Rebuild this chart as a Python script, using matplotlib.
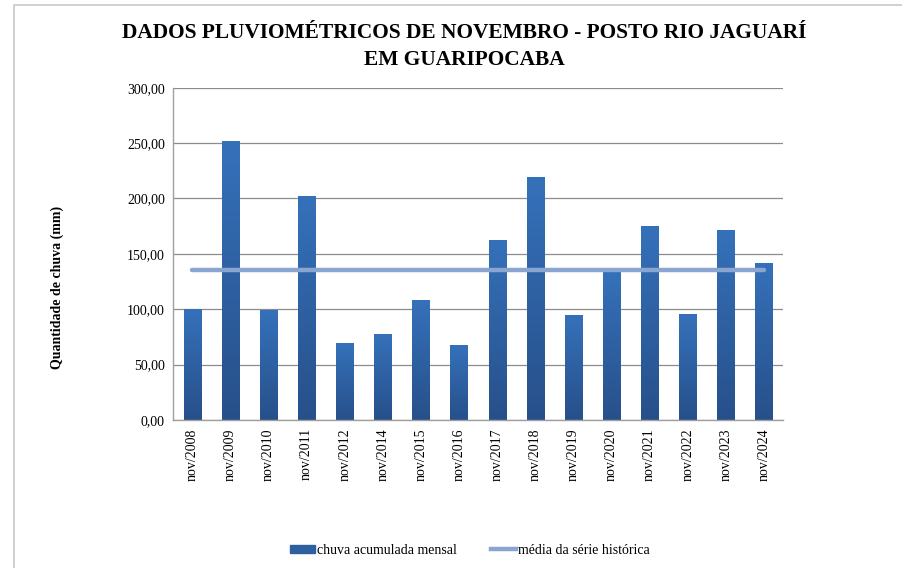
import matplotlib.pyplot as plt
import numpy as np
from matplotlib.patches import Rectangle
from matplotlib.lines import Line2D
from matplotlib.colors import LinearSegmentedColormap

plt.rcParams['font.family'] = ['Liberation Serif', 'DejaVu Serif']

# data
meses = ["nov/2008", "nov/2009", "nov/2010", "nov/2011", "nov/2012", "nov/2014",
         "nov/2015", "nov/2016", "nov/2017", "nov/2018", "nov/2019", "nov/2020",
         "nov/2021", "nov/2022", "nov/2023", "nov/2024"]
chuva = [100.6, 251.6, 99.1, 201.8, 69.4, 77.2, 108.1, 67.3, 162.8, 219.8,
         94.6, 133.6, 174.8, 95.5, 171.2, 141.4]
media = [135.5] * len(meses)
yticks = [0, 50, 100, 150, 200, 250, 300]

BAR_COLOR = "#2e5f9f"
LINE_COLOR = "#8aa5cf"

fig = plt.figure(figsize=(9.02, 5.68), dpi=100)
# light frame around the chart area
fig.patches.append(Rectangle((14 / 902, -0.1), 1.2, 1 - 5 / 568 + 0.1,
                             transform=fig.transFigure, fill=False,
                             edgecolor="#c8c8c8", linewidth=1.2))

ax = fig.add_axes([0.192, 0.2606, 0.676, 0.585])
x = np.arange(len(meses))
bars = ax.bar(x, chuva, width=0.45, color=BAR_COLOR, zorder=2)

# vertical gradient on each bar (lighter at top)
cmap = LinearSegmentedColormap.from_list("grad", ["#27508a", "#3571ba"])
grad = np.linspace(0, 1, 256).reshape(-1, 1)
for b in bars:
    x0, y0 = b.get_x(), b.get_y()
    w, h = b.get_width(), b.get_height()
    im = ax.imshow(grad, extent=[x0, x0 + w, y0, y0 + h], origin="lower",
                   cmap=cmap, aspect="auto", zorder=2.1)
    im.set_clip_path(b)

ax.plot(x, media, color=LINE_COLOR, linewidth=3.2, solid_capstyle="round", zorder=3)

ax.set_xlim(-0.5, len(meses) - 0.5)
ax.set_ylim(0, 300)
ax.set_yticks(yticks)
ax.set_yticklabels([f"{v:.2f}".replace(".", ",") for v in yticks], fontsize=10)
ax.set_xticks(x)
ax.set_xticklabels(meses, rotation=90, fontsize=10)
ax.tick_params(axis="both", length=0, pad=6)
ax.yaxis.grid(True, color="#8c8c8c", linewidth=0.9, zorder=0)
ax.set_axisbelow(True)
for s in ["top", "right"]:
    ax.spines[s].set_visible(False)
for s in ["left", "bottom"]:
    ax.spines[s].set_color("#a0a0a0")
    ax.spines[s].set_linewidth(1.0)

fig.text(464 / 902, 1 - 46.5 / 568,
         "DADOS PLUVIOMÉTRICOS DE NOVEMBRO - POSTO RIO JAGUARÍ\nEM GUARIPOCABA",
         ha="center", va="center", fontsize=15.4, fontweight="bold", linespacing=1.5)
fig.text(57 / 902, 1 - 287 / 568, "Quantidade de chuva (mm)", rotation=90,
         ha="center", va="center", fontsize=10, fontweight="bold")

handles = [Rectangle((0, 0), 1, 1, color=BAR_COLOR),
           Line2D([0], [0], color=LINE_COLOR, linewidth=3.2)]
fig.legend(handles, ["chuva acumulada mensal", "média da série histórica"],
           loc="center", bbox_to_anchor=(470 / 902, 1 - 550 / 568), ncol=2,
           frameon=False, fontsize=10, handlelength=1.8, handleheight=0.5,
           handletextpad=0.1, columnspacing=2.5)

fig.savefig("out.png", dpi=100)
